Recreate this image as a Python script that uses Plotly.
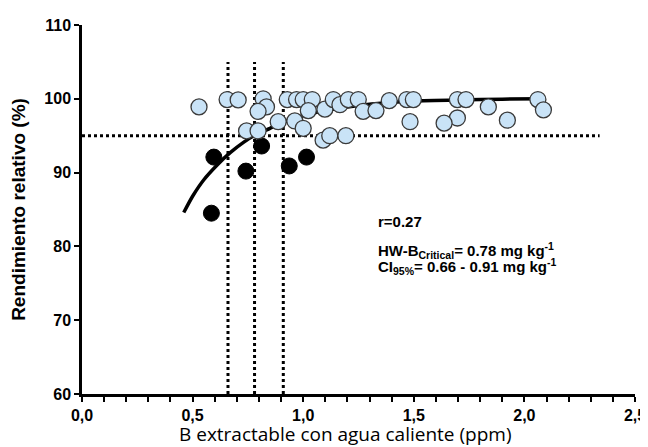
import plotly.graph_objects as go

# Data
blue_x = [0.529, 0.656, 0.706, 0.819, 0.834, 0.796, 0.928, 0.970, 1.000, 1.041,
          1.023, 1.098, 1.136, 1.166, 1.204, 1.249, 1.271, 1.329, 1.389, 0.887,
          0.962, 1.000, 0.744, 0.796, 1.090, 1.120, 1.193, 1.468, 1.498, 1.483,
          1.697, 1.736, 1.837, 1.697, 1.637, 1.923, 2.061, 2.086]
blue_y = [98.9, 99.9, 99.85, 100.0, 98.9, 98.3, 99.9, 99.9, 99.9, 99.9,
          98.4, 98.6, 99.9, 99.2, 99.9, 99.9, 98.3, 98.4, 99.75, 96.9,
          97.0, 96.0, 95.65, 95.65, 94.4, 95.0, 95.0, 99.9, 99.9, 96.9,
          99.9, 99.9, 98.9, 97.4, 96.7, 97.1, 99.9, 98.5]

black_x = [0.596, 0.585, 0.741, 0.812, 0.937, 1.015]
black_y = [92.1, 84.5, 90.2, 93.6, 90.9, 92.1]

curve_x = [0.46, 0.50, 0.55, 0.61, 0.67, 0.73, 0.79, 0.85, 0.90, 1.00, 1.10,
           1.20, 1.35, 1.50, 1.70, 1.90, 2.08]
curve_y = [84.6, 86.8, 89.0, 91.0, 92.7, 94.1, 95.2, 96.0, 96.7, 97.7, 98.4,
           98.9, 99.4, 99.7, 99.85, 99.95, 100.0]

critical_x = [0.66, 0.78, 0.91]
threshold_y = 95
threshold_xmax = 2.34
vline_ymax = 105

x_ticks = [0, 0.5, 1.0, 1.5, 2.0, 2.5]
x_ticklabels = ["0,0", "0,5", "1,0", "1,5", "2,0", "2,5"]
y_ticks = [60, 70, 80, 90, 100, 110]

x_title = "B extractable con agua caliente (ppm)"
y_title = "Rendimiento relativo (%)"

fig = go.Figure()

# dotted reference lines
for cx in critical_x:
    fig.add_trace(go.Scatter(x=[cx, cx], y=[60, vline_ymax], mode="lines",
                             line=dict(color="black", width=3, dash="dot"),
                             showlegend=False, hoverinfo="skip"))
fig.add_trace(go.Scatter(x=[0, threshold_xmax], y=[threshold_y, threshold_y], mode="lines",
                         line=dict(color="black", width=3, dash="dot"),
                         showlegend=False, hoverinfo="skip"))

# fitted curve
fig.add_trace(go.Scatter(x=curve_x, y=curve_y, mode="lines",
                         line=dict(color="black", width=3.5, shape="spline", smoothing=0.6),
                         showlegend=False))

# black points
fig.add_trace(go.Scatter(x=black_x, y=black_y, mode="markers",
                         marker=dict(size=16, color="black", line=dict(color="black", width=1)),
                         showlegend=False))
# light blue points
fig.add_trace(go.Scatter(x=blue_x, y=blue_y, mode="markers",
                         marker=dict(size=16, color="#c9e3f7", line=dict(color="#3a3a3a", width=1.3)),
                         showlegend=False))

ann_font = dict(family="Liberation Sans, Arial", size=15, color="black")
fig.add_annotation(x=1.329, y=83.4, xref="x", yref="y", xanchor="left", yanchor="middle",
                   text="<b>r=0.27</b>", showarrow=False, font=ann_font)
fig.add_annotation(x=1.329, y=79.4, xref="x", yref="y", xanchor="left", yanchor="middle",
                   text="<b>HW-B<sub>Critical</sub>= 0.78 mg kg<sup>-1</sup></b>", showarrow=False, font=ann_font)
fig.add_annotation(x=1.329, y=77.3, xref="x", yref="y", xanchor="left", yanchor="middle",
                   text="<b>CI<sub>95%</sub>= 0.66 - 0.91 mg kg<sup>-1</sup></b>", showarrow=False, font=ann_font)

# x-axis title (placed as an annotation, slightly left of centre as in the reference)
fig.add_annotation(x=1.193, y=-0.108, xref="x", yref="paper", xanchor="center", yanchor="middle",
                   text=x_title, showarrow=False,
                   font=dict(family="Open Sans", size=19, color="black"))

# page body adds an 8px margin, so the figure is 640x439 and shifted
fig.update_layout(
    width=640, height=439,
    margin=dict(l=74, r=13, t=17, b=53),
    paper_bgcolor="white", plot_bgcolor="white",
    font=dict(family="Liberation Sans, Arial", color="black"),
    xaxis=dict(range=[0, 2.5], tickvals=x_ticks, ticktext=x_ticklabels, automargin=False,
               ticklabeloverflow="allow",
               showgrid=False, zeroline=False, showline=True, linecolor="black", linewidth=2.5,
               ticks="outside", ticklen=5, tickwidth=2, tickcolor="black",
               tickfont=dict(family="Liberation Sans, Arial", size=16, color="black", weight="bold"),
               minor=dict(dtick=0.1, ticks="outside", ticklen=5, tickwidth=2, tickcolor="black")),
    yaxis=dict(range=[60, 110], tickvals=y_ticks, automargin=False,
               ticklabeloverflow="allow",
               showgrid=False, zeroline=False, showline=True, linecolor="black", linewidth=2.5,
               ticks="outside", ticklen=5, tickwidth=2, tickcolor="black",
               tickfont=dict(family="Liberation Sans, Arial", size=16, color="black", weight="bold"),
               title=dict(text="<b>" + y_title + "</b>",
                          font=dict(family="Liberation Sans, Arial", size=19, color="black"), standoff=16)),
)

fig.write_html("out.html")
